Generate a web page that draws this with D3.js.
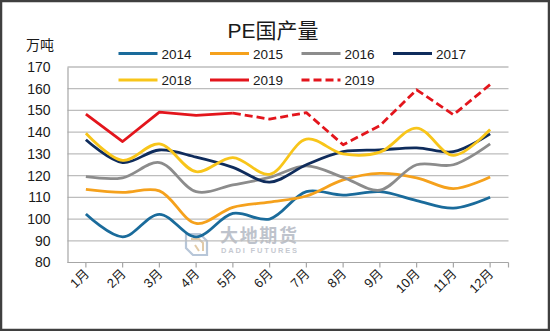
<!DOCTYPE html>
<html>
<head>
<meta charset="utf-8">
<script src="https://cdn.jsdelivr.net/npm/d3@7"></script>
<style>
  html, body { margin: 0; padding: 0; background: #fff; }
  svg { display: block; }
  text { font-family: "Liberation Sans", Arial, "Noto Sans CJK SC", sans-serif; }
</style>
</head>
<body>
<svg id="chart" width="550" height="331"></svg>
<script>
// Monthly PE domestic output (万吨)
const months = ["1月","2月","3月","4月","5月","6月","7月","8月","9月","10月","11月","12月"];
const yTicks = [80, 90, 100, 110, 120, 130, 140, 150, 160, 170];

const s2014 = [102.3, 91.8, 102.2, 91.8, 102.6, 100.0, 112.6, 111.0, 112.6, 108.5, 105.0, 110.0];
const s2015 = [113.7, 112.3, 113.0, 98.0, 105.4, 107.8, 110.6, 118.0, 121.0, 119.0, 114.0, 119.4];
const s2016 = [119.5, 119.0, 126.0, 112.6, 115.7, 119.2, 124.5, 119.2, 113.3, 125.0, 125.0, 134.6];
const s2017 = [136.5, 126.0, 131.8, 128.5, 123.8, 117.0, 125.0, 131.0, 131.8, 132.8, 131.0, 139.2];
const s2018 = [139.5, 127.0, 134.6, 121.8, 128.3, 120.6, 136.8, 130.0, 130.8, 141.9, 129.3, 141.2];
const s2019 = [148.3, 135.7, 149.2, 147.7, 148.8];
// 2019 estimate, continuing from May
const s2019e = [null, null, null, null, 148.8, 146.0, 149.0, 134.2, 143.0, 159.5, 148.0, 161.9];

const series = [
  { name: "2014", values: s2014, color: "#1a6b9b", smooth: true },
  { name: "2015", values: s2015, color: "#f5a11c", smooth: true },
  { name: "2016", values: s2016, color: "#8c8c8c", smooth: true },
  { name: "2017", values: s2017, color: "#0f2c5c", smooth: true },
  { name: "2018", values: s2018, color: "#f8c51a", smooth: true },
  { name: "2019", values: s2019, color: "#e3151c", smooth: false },
  { name: "2019", values: s2019e, color: "#e3151c", smooth: false, dashed: true }
];

const svg = d3.select("#chart");
const W = 550, H = 331;
const plot = { left: 67.5, right: 508.5, top: 67, bottom: 262.5 };

svg.append("rect").attr("x", 0).attr("y", 0).attr("width", W).attr("height", H).attr("fill", "#fff");

const x = d3.scaleBand().domain(months).range([plot.left, plot.right]).padding(0);
const y = d3.scaleLinear().domain([80, 170]).range([plot.bottom, plot.top]);
const cx = m => x(m) + x.bandwidth() / 2;

// Watermark
const wm = svg.append("g").attr("opacity", 0.75);
wm.append("path")
  .attr("d", "M186,234 L200,234 L207,241 L207,255 L193,255 L186,248 Z")
  .attr("fill", "none").attr("stroke", "#9fb3cc").attr("stroke-width", 2.2);
wm.append("path")
  .attr("d", "M191,239 L199,239 L203,243 L203,251 M195,245 L199,251")
  .attr("fill", "none").attr("stroke", "#d8b98a").attr("stroke-width", 2);
wm.append("text").attr("x", 220).attr("y", 242).attr("font-size", 18)
  .attr("font-family", "Noto Sans CJK SC").attr("font-weight", 700)
  .attr("fill", "#a9afbb").attr("textLength", 77).text("大地期货");
wm.append("text").attr("x", 221).attr("y", 253).attr("font-size", 7.5)
  .attr("font-weight", 700).attr("fill", "#b3b8c2").attr("textLength", 76).text("DADI FUTURES");

// Gridlines
svg.append("g").selectAll("line").data(yTicks.filter(v => v > 80)).join("line")
  .attr("x1", plot.left).attr("x2", plot.right)
  .attr("y1", d => y(d)).attr("y2", d => y(d))
  .attr("stroke", "#bdbdbd").attr("stroke-width", 1.3);

// Y axis
const yAxis = svg.append("g").attr("transform", `translate(${plot.left},0)`)
  .call(d3.axisLeft(y).tickValues(yTicks).tickSize(0).tickPadding(17));
yAxis.select(".domain").attr("stroke", "#a6a6a6").attr("stroke-width", 1.2);
yAxis.selectAll("text").attr("font-size", 14).attr("fill", "#1a1a1a");

// X axis
const xAxis = svg.append("g").attr("transform", `translate(0,${plot.bottom})`)
  .call(d3.axisBottom(x).tickSize(0).tickFormat(""));
xAxis.select(".domain").remove();
xAxis.append("line").attr("x1", plot.left).attr("x2", plot.right)
  .attr("stroke", "#a6a6a6").attr("stroke-width", 1.2);
xAxis.selectAll(".tk").data(months).join("line").attr("class", "tk")
  .attr("x1", d => cx(d)).attr("x2", d => cx(d)).attr("y1", 0).attr("y2", 5)
  .attr("stroke", "#a6a6a6").attr("stroke-width", 1.2);
xAxis.append("line").attr("x1", plot.right).attr("x2", plot.right).attr("y1", 0).attr("y2", 5)
  .attr("stroke", "#a6a6a6").attr("stroke-width", 1.2);
xAxis.selectAll(".lbl").data(months).join("text").attr("class", "lbl")
  .attr("transform", d => `translate(${cx(d) + 4},${12}) rotate(-45)`)
  .attr("text-anchor", "end").attr("font-size", 13).attr("fill", "#1a1a1a")
  .text(d => d);

// Series lines
const lineSmooth = d3.line().defined(d => d != null)
  .x((d, i) => cx(months[i])).y(d => y(d)).curve(d3.curveCatmullRom.alpha(0.5));
const lineStraight = d3.line().defined(d => d != null)
  .x((d, i) => cx(months[i])).y(d => y(d));

svg.append("g").selectAll("path").data(series).join("path")
  .attr("d", s => (s.smooth ? lineSmooth : lineStraight)(s.values))
  .attr("fill", "none").attr("stroke", s => s.color)
  .attr("stroke-width", 2.8)
  .attr("stroke-linejoin", "round")
  .attr("stroke-dasharray", s => s.dashed ? "8,4" : null);

// Title and unit
svg.append("text").attr("x", 273).attr("y", 38).attr("text-anchor", "middle")
  .attr("font-size", 21).attr("fill", "#1a1a1a").text("PE国产量");
svg.append("text").attr("x", 26).attr("y", 50).attr("font-size", 14)
  .attr("font-family", "Noto Sans CJK SC").attr("fill", "#1a1a1a").text("万吨");

// Legend
const legend = svg.append("g");
const item = legend.selectAll("g").data(series).join("g")
  .attr("transform", (s, i) => `translate(${118.5 + (i % 4) * 91.5},${i < 4 ? 53.5 : 80})`);
item.append("line").attr("x1", 0).attr("x2", 39).attr("y1", 0).attr("y2", 0)
  .attr("stroke", s => s.color).attr("stroke-width", 2.8)
  .attr("stroke-dasharray", s => s.dashed ? "8,4" : null);
item.append("text").attr("x", 43).attr("y", 5).attr("font-size", 13.5)
  .attr("fill", "#1a1a1a").text(s => s.name);

// Outer frame
svg.append("rect").attr("x", 1).attr("y", 1).attr("width", W - 2).attr("height", H - 2)
  .attr("fill", "none").attr("stroke", "#3f3f3f").attr("stroke-width", 2.5);
</script>
</body>
</html>
